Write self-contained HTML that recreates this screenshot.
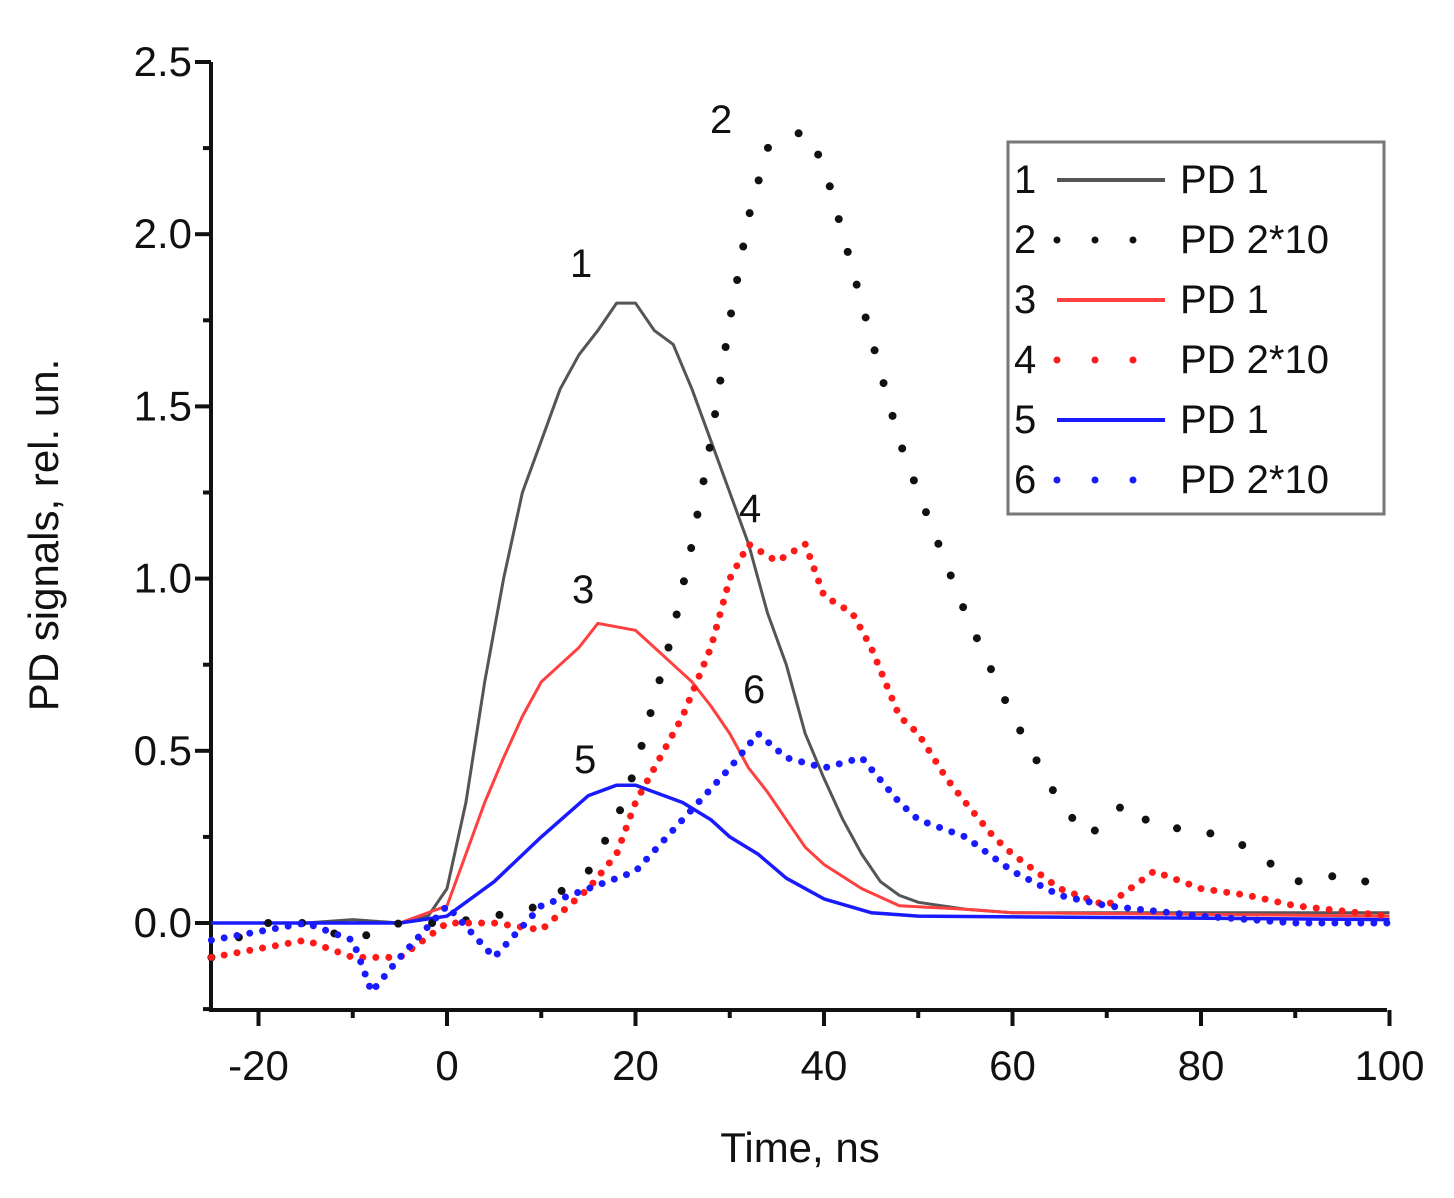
<!DOCTYPE html>
<html><head><meta charset="utf-8"><style>
html,body{margin:0;padding:0;background:#fff;}
svg{display:block;font-family:"Liberation Sans",Arial,sans-serif;}
</style></head><body>
<svg id="chart" width="1454" height="1198" viewBox="0 0 1454 1198" xmlns="http://www.w3.org/2000/svg">
<g id="axes"></g>
<g id="series"></g>
<g id="labels" font-size="40" fill="#111">
<text x="570" y="277">1</text>
<text x="710" y="133">2</text>
<text x="572" y="603">3</text>
<text x="739" y="522">4</text>
<text x="574" y="773">5</text>
<text x="743" y="703">6</text>
</g>
<g id="legend"></g>
<text x="800" y="1162" text-anchor="middle" font-size="42" fill="#111">Time, ns</text>
<text transform="translate(58,535) rotate(-90)" text-anchor="middle" font-size="42" fill="#111">PD signals, rel. un.</text>
</svg>
<script>
const xTicks=[-20,0,20,40,60,80,100];
const yTicks=[0.0,0.5,1.0,1.5,2.0,2.5];
const yTickLabels=["0.0","0.5","1.0","1.5","2.0","2.5"];
const x1=[-25,-20,-15,-10,-5,-2,0,2,4,6,8,10,12,14,16,18,20,22,24,26,28,30,32,34,36,38,40,42,44,46,48,50,55,60,70,80,90,100];
const y1=[0,0,0,0.01,0,0.02,0.1,0.35,0.7,1.0,1.25,1.4,1.55,1.65,1.72,1.8,1.8,1.72,1.68,1.55,1.4,1.25,1.1,0.9,0.75,0.55,0.42,0.3,0.2,0.12,0.08,0.06,0.04,0.03,0.03,0.03,0.03,0.03];
const x2=[-25,-20,-15,-10,-5,0,5,10,15,18,20,22,24,26,28,30,32,34,36,38,40,42,44,46,48,50,55,60,65,68,72,75,80,85,90,95,100];
const y2=[-0.1,0,0,-0.05,0,0,0.02,0.05,0.15,0.3,0.45,0.65,0.85,1.1,1.4,1.75,2.05,2.25,2.28,2.3,2.2,2.0,1.8,1.6,1.4,1.25,0.9,0.6,0.35,0.25,0.35,0.28,0.27,0.22,0.12,0.14,0.1];
const x3=[-25,-5,0,2,4,6,8,10,12,14,16,18,20,22,24,26,28,30,32,34,36,38,40,44,48,55,60,100];
const y3=[0,0,0.05,0.2,0.35,0.48,0.6,0.7,0.75,0.8,0.87,0.86,0.85,0.8,0.75,0.7,0.63,0.55,0.45,0.38,0.3,0.22,0.17,0.1,0.05,0.04,0.03,0.02];
const x4=[-25,-15,-10,-5,0,5,10,15,18,20,22,25,28,30,32,35,38,40,43,45,48,50,53,55,58,60,65,70,75,80,85,90,100];
const y4=[-0.1,-0.05,-0.1,-0.1,0,0,-0.02,0.1,0.2,0.35,0.45,0.6,0.8,1.0,1.1,1.05,1.1,0.95,0.9,0.8,0.6,0.55,0.42,0.35,0.25,0.2,0.1,0.05,0.15,0.1,0.08,0.05,0.02];
const x5=[-25,-5,0,5,10,15,18,20,22,25,28,30,33,36,40,45,50,100];
const y5=[0,0,0.02,0.12,0.25,0.37,0.4,0.4,0.38,0.35,0.3,0.25,0.2,0.13,0.07,0.03,0.02,0.01];
const x6=[-25,-15,-10,-8,-5,0,5,10,15,20,25,30,33,36,40,44,48,50,55,60,65,70,80,90,100];
const y6=[-0.05,0,-0.05,-0.2,-0.1,0.05,-0.1,0.05,0.1,0.15,0.3,0.45,0.55,0.48,0.45,0.48,0.35,0.3,0.25,0.15,0.08,0.05,0.02,0,0];
const NS="http://www.w3.org/2000/svg";
const L=211,R=1387,T=62,B=1010;
const X=v=>447+(v)*(188.5/20);
const Y=v=>923-v*(861/2.5);
function mk(tag,attrs,parent){const e=document.createElementNS(NS,tag);for(const k in attrs)e.setAttribute(k,attrs[k]);parent.appendChild(e);return e;}
const ax=document.getElementById('axes');
let e=mk('path',{d:`M${L},${T} V${B} H${R}`,stroke:'#111','stroke-width':4,fill:'none'},ax);


for(let v=-20;v<=100;v+=10){const maj=v%20===0;
 e=mk('line',{x1:X(v),x2:X(v),y1:B,y2:B+(maj?16:8),stroke:'#111','stroke-width':4},ax);
 
 }
xTicks.forEach(v=>{e=mk('text',{x:X(v),y:1080,'text-anchor':'middle','font-size':42,fill:'#111'},ax);e.textContent=v;
 
 });
for(let v=-0.25;v<=2.5001;v+=0.25){const maj=Math.abs(Math.round(v*2)-v*2)<1e-6;
 e=mk('line',{x1:L,x2:L-(maj?16:8),y1:Y(v),y2:Y(v),stroke:'#111','stroke-width':4},ax);
 
 }
yTicks.forEach((v,i)=>{e=mk('text',{x:192,y:Y(v)+14,'text-anchor':'end','font-size':42,fill:'#111'},ax);e.textContent=yTickLabels[i];
 
 });
const sg=document.getElementById('series');
const specs=[
 [x1,y1,'#555',3,null,'series-1-pd1'],
 [x3,y3,'#ff4040',3,null,'series-3-pd1'],
 [x5,y5,'#1a1aff',3.5,null,'series-5-pd1'],
 [x2,y2,'#111',8,'0 34','series-2-pd2x10'],
 [x4,y4,'#ff1a1a',7,'0 13','series-4-pd2x10'],
 [x6,y6,'#1a1aff',7,'0 13','series-6-pd2x10']];
specs.forEach(s=>{const d=s[0].map((v,i)=>(i?'L':'M')+X(v).toFixed(1)+','+Y(s[1][i]).toFixed(1)).join(' ');
 const a={d:d,stroke:s[2],'stroke-width':s[3],fill:'none','stroke-linejoin':'round'};
 if(s[4]){a['stroke-dasharray']=s[4];a['stroke-linecap']='round';}
 e=mk('path',a,sg);
 
 });
const lg=document.getElementById('legend');
e=mk('rect',{x:1008,y:142,width:376,height:372,fill:'#fff',stroke:'#777','stroke-width':3},lg);


const legNums=["1","2","3","4","5","6"];
const legText=["PD 1","PD 2*10","PD 1","PD 2*10","PD 1","PD 2*10"];
const legCol=['#555','#111','#ff4040','#ff1a1a','#1a1aff','#1a1aff'];
legNums.forEach((n,i)=>{const yy=178+i*60;
 const g=mk('g',{},lg);
 
 
 let t=mk('text',{x:1014,y:yy+15,'font-size':40,fill:'#111'},g);t.textContent=n;
 const a={x1:1057,x2:1165,y1:yy+2,y2:yy+2,stroke:legCol[i],'stroke-width':i%2?7:4};
 if(i%2){a['stroke-dasharray']='0 38';a['stroke-linecap']='round';a.x2=1137;}
 mk('line',a,g);
 t=mk('text',{x:1180,y:yy+15,'font-size':40,fill:'#111'},g);t.textContent=legText[i];});
</script>
</body></html>
